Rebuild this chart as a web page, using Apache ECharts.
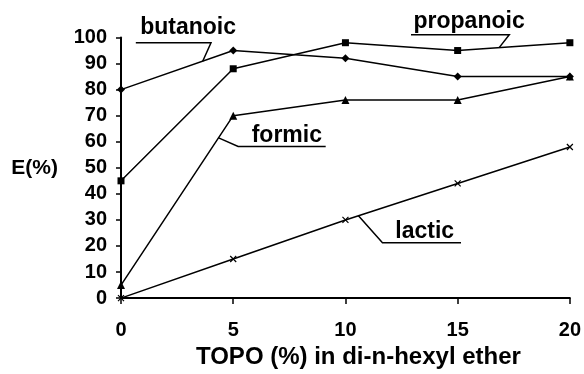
<!DOCTYPE html>
<html><head><meta charset="utf-8">
<script src="https://cdn.jsdelivr.net/npm/echarts@6/dist/echarts.min.js"></script>
<style>html,body{margin:0;padding:0;background:#fff}#c{width:584px;height:374px}</style>
</head><body><div id="c"></div>
<script>
const topo = [0, 5, 10, 15, 20];
const butanoic = [80, 95, 92, 85, 85];
const propanoic = [45, 88, 98, 95, 98];
const formic = [5, 70, 76, 76, 85];
const lactic = [0, 15, 30, 44, 58];

const labelNames = ['butanoic', 'propanoic', 'formic', 'lactic'];
const labelPos = [[2.99, 103.6], [15.51, 106.2], [7.39, 62.45], [13.53, 25.4]];
const leaders = [
  [[3.64, 90.9], [4.01, 98.0], [0.66, 98.0]],
  [[16.85, 96.1], [17.3, 101.1], [12.92, 101.1]],
  [[4.35, 61.5], [5.22, 58.2], [9.12, 58.2]],
  [[10.58, 31.6], [11.65, 21.2], [15.15, 21.2]]
];

const FONT = '"Liberation Sans", Arial, sans-serif';
const chart = echarts.init(document.getElementById('c'), null, {renderer: 'canvas'});
const pts = ys => topo.map((x, i) => [x, ys[i]]);
const base = {
  type: 'line', symbolSize: 7, animation: false,
  lineStyle: {color: '#000', width: 1.5},
  itemStyle: {color: '#000'}
};
const crossPath = 'path://M0,0L10,10M10,0L0,10';
chart.setOption({
  animation: false,
  backgroundColor: '#fff',
  grid: {left: 121, right: 11, top: 37.5, bottom: 71.5},
  xAxis: {
    type: 'value', min: 0, max: 20, interval: 5,
    name: 'TOPO (%) in di-n-hexyl ether', nameLocation: 'middle', nameGap: 44,
    nameTextStyle: {fontFamily: FONT, fontWeight: 'bold', fontSize: 24, color: '#000', padding: [0, 0, 0, 26]},
    axisLine: {lineStyle: {color: '#000', width: 2}},
    axisTick: {show: true, length: 6, lineStyle: {color: '#000', width: 1.5}},
    axisLabel: {fontFamily: FONT, fontWeight: 'bold', fontSize: 20, color: '#000', margin: 22},
    splitLine: {show: false}
  },
  yAxis: {
    type: 'value', min: 0, max: 100, interval: 10,
    name: 'E(%)', nameLocation: 'middle', nameGap: 63, nameRotate: 0,
    nameTextStyle: {fontFamily: FONT, fontWeight: 'bold', fontSize: 21, color: '#000'},
    axisLine: {show: true, lineStyle: {color: '#000', width: 2}},
    axisTick: {show: true, length: 5, lineStyle: {color: '#000', width: 1.5}},
    axisLabel: {fontFamily: FONT, fontWeight: 'bold', fontSize: 20, color: '#000', margin: 14},
    splitLine: {show: false}
  },
  series: [
    Object.assign({}, base, {name: 'butanoic', symbol: 'diamond', symbolSize: 8, data: pts(butanoic)}),
    Object.assign({}, base, {name: 'propanoic', symbol: 'rect', symbolSize: 7, data: pts(propanoic)}),
    Object.assign({}, base, {name: 'formic', symbol: 'triangle', symbolSize: 8, data: pts(formic)}),
    Object.assign({}, base, {name: 'lactic', symbol: crossPath, symbolSize: 6,
      itemStyle: {color: '#000', borderColor: '#000', borderWidth: 1.2}, data: pts(lactic)})
  ]
});

const graphics = [];
leaders.forEach((poly, i) => {
  graphics.push({
    type: 'polyline', silent: true,
    shape: {points: poly.map(p => chart.convertToPixel({gridIndex: 0}, p))},
    style: {stroke: '#000', lineWidth: 1.5, fill: null}
  });
  const tp = chart.convertToPixel({gridIndex: 0}, labelPos[i]);
  graphics.push({
    type: 'text', silent: true, x: tp[0], y: tp[1],
    style: {text: labelNames[i], font: 'bold 23px ' + FONT, fill: '#000', align: 'center', verticalAlign: 'middle'}
  });
});
chart.setOption({graphic: graphics});
</script></body></html>
